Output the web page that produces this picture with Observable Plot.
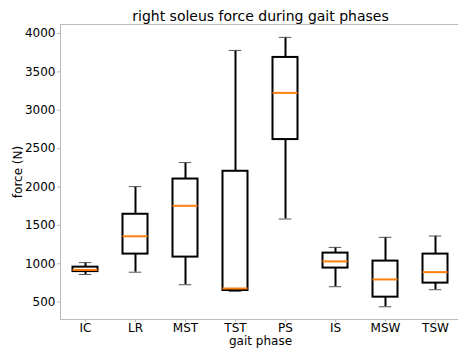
<!DOCTYPE html>
<html>
<head>
<meta charset="utf-8">
<script src="https://cdn.jsdelivr.net/npm/d3@7"></script>
<script src="https://cdn.jsdelivr.net/npm/@observablehq/plot@0.6"></script>
<style>
  html, body { margin: 0; padding: 0; background: #fff; }
  #chart svg { display: block; font-family: "DejaVu Sans", sans-serif; }
</style>
</head>
<body>
<div id="chart"></div>
<script>
// Gait phases along the x axis
const phases = ["IC", "LR", "MST", "TST", "PS", "IS", "MSW", "TSW"];
// Box statistics per phase (N)
const whiskerLow  = [860, 890, 727, 640, 1583, 701, 440, 662];
const q1          = [898, 1126, 1087, 652, 2618, 944, 565, 748];
const median      = [920, 1358, 1755, 678, 3226, 1031, 796, 891];
const q3          = [956, 1645, 2104, 2205, 3688, 1139, 1035, 1126];
const whiskerHigh = [1015, 2005, 2318, 3779, 3949, 1213, 1344, 1361];
// Axis ticks and text
const yTicks = [500, 1000, 1500, 2000, 2500, 3000, 3500, 4000];
const title = "right soleus force during gait phases";
const xLabel = "gait phase";
const yLabel = "force (N)";

const rows = phases.map((p, i) => ({
  pos: i + 1, phase: p,
  lo: whiskerLow[i], q1: q1[i], med: median[i], q3: q3[i], hi: whiskerHigh[i]
}));

const boxHalf = 0.25, capHalf = 0.125;
const spine = "#bcbcbc";

const chart = Plot.plot({
  width: 458,
  height: 351,
  marginLeft: 60,
  marginRight: -2,
  marginTop: 24,
  marginBottom: 32,
  style: { fontFamily: "DejaVu Sans, sans-serif", fontSize: "12px", color: "#000", background: "#fff" },
  x: { type: "linear", domain: [0.5, 8.5], axis: null },
  y: { domain: [274, 4117], axis: null },
  marks: [
    Plot.frame({ stroke: spine, strokeWidth: 1 }),
    // y axis ticks and labels
    Plot.axisY({ ticks: yTicks, tickFormat: d => String(d), tickSize: 3, tickPadding: 2, stroke: spine, fill: "#000", fontSize: 12, label: null }),
    // x axis ticks and category labels
    Plot.axisX({ ticks: rows.map(d => d.pos), tickFormat: (d) => phases[d - 1], tickSize: 3, tickPadding: 1, stroke: spine, fill: "#000", fontSize: 12, label: null }),
    // whiskers
    Plot.ruleX(rows, { x: "pos", y1: "lo", y2: "q1", stroke: "#000", strokeWidth: 2 }),
    Plot.ruleX(rows, { x: "pos", y1: "q3", y2: "hi", stroke: "#000", strokeWidth: 2 }),
    // caps
    Plot.ruleY(rows, { y: "lo", x1: d => d.pos - capHalf, x2: d => d.pos + capHalf, stroke: "#555", strokeWidth: 1 }),
    Plot.ruleY(rows, { y: "hi", x1: d => d.pos - capHalf, x2: d => d.pos + capHalf, stroke: "#555", strokeWidth: 1 }),
    // boxes
    Plot.rect(rows, { x1: d => d.pos - boxHalf, x2: d => d.pos + boxHalf, y1: "q1", y2: "q3", fill: "#fff", stroke: "#000", strokeWidth: 2 }),
    // medians
    Plot.ruleY(rows, { y: "med", x1: d => d.pos - boxHalf, x2: d => d.pos + boxHalf, stroke: "#ff7f0e", strokeWidth: 2 }),
    // title and axis labels
    Plot.text([title], { frameAnchor: "top", dy: -4, lineAnchor: "bottom", fontSize: 14, fill: "#000" }),
    Plot.text([xLabel], { frameAnchor: "bottom", dy: 25, lineAnchor: "bottom", fontSize: 12, fill: "#000" }),
    Plot.text([yLabel], { frameAnchor: "left", dx: -39, rotate: -90, textAnchor: "middle", lineAnchor: "bottom", fontSize: 12, fill: "#000" })
  ]
});

document.getElementById("chart").appendChild(chart);
</script>
</body>
</html>
